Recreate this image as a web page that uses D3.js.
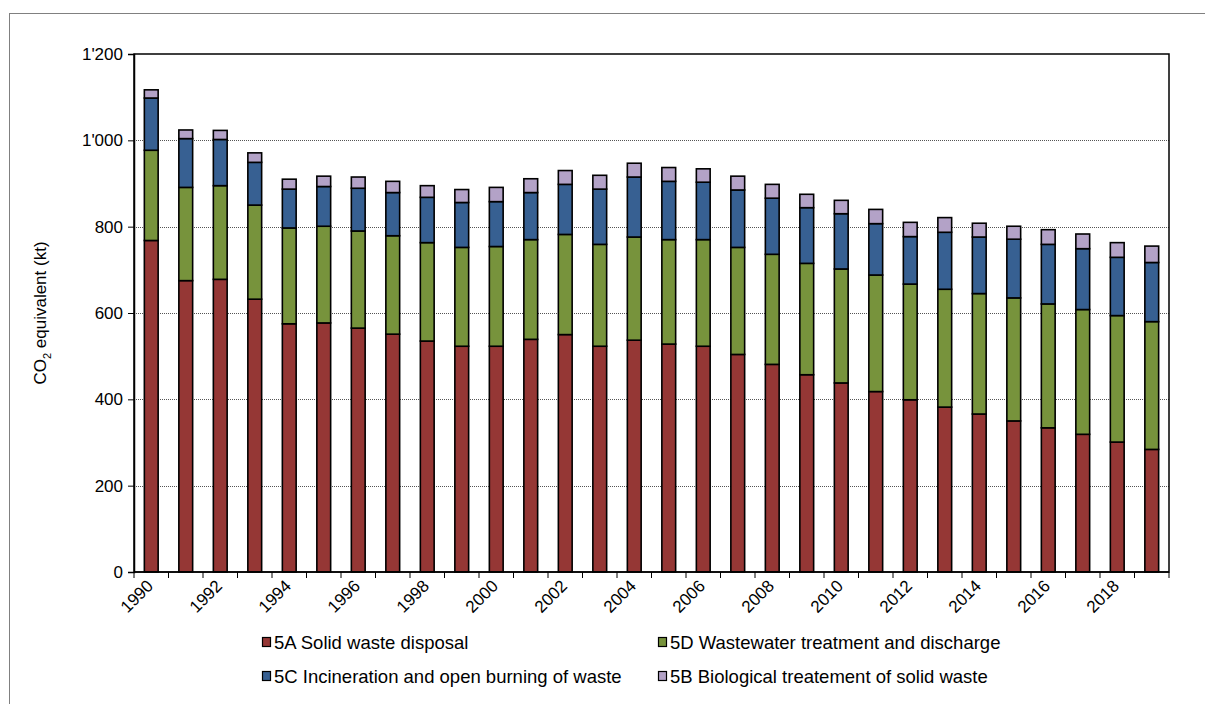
<!DOCTYPE html>
<html><head><meta charset="utf-8">
<script src="https://cdn.jsdelivr.net/npm/d3@7"></script>
<style>
body{margin:0;background:#fff;}
svg{display:block;font-family:"Liberation Sans",Arial,sans-serif;}
</style></head>
<body><svg id="c" width="1205" height="704"></svg>
<script>
const years = d3.range(1990, 2020).map(String);
const tickLabels = ["1990","1992","1994","1996","1998","2000","2002","2004","2006","2008","2010","2012","2014","2016","2018"];
const yTicks = [0,200,400,600,800,1000,1200];
const seriesNames = ["5A Solid waste disposal","5D Wastewater treatment and discharge","5C Incineration and open burning of waste","5B Biological treatement of solid waste"];
const seriesColors = ["#953735","#77933C","#376092","#B3A2C7"];
const s5A = [768,675,678,632,575,577,565,551,535,523,523,539,550,523,537,528,523,504,481,457,438,418,399,382,366,350,334,319,301,284];
const s5D = [209,216,217,218,222,224,225,228,228,229,231,231,232,236,239,242,247,248,255,258,264,270,268,273,279,285,287,289,293,296];
const s5C = [121,113,107,99,90,92,99,100,105,104,104,109,116,128,139,135,133,133,130,129,128,119,110,132,131,136,138,141,135,137];
const s5B = [19,20,21,22,23,24,26,26,27,30,33,32,32,32,32,32,31,32,32,31,31,33,33,34,32,30,34,34,34,38];

const table = years.map((y,i)=>({year:y, s0:s5A[i], s1:s5D[i], s2:s5C[i], s3:s5B[i]}));
const keys = ["s0","s1","s2","s3"];
const stacked = d3.stack().keys(keys)(table);

const svg = d3.select("#c");
const m = {l:134, t:54, r:1169, b:572};

// outer frame
svg.append("rect").attr("x",9.5).attr("y",13.5).attr("width",1300).attr("height",800)
  .attr("fill","none").attr("stroke","#808080").attr("stroke-width",1);

const x = d3.scaleBand().domain(years).range([m.l,m.r]).paddingInner(0.6).paddingOuter(0.3);
const y = d3.scaleLinear().domain([0,1200]).range([m.b,m.t]);
const fmt = v => v>=1000 ? Math.floor(v/1000)+"'"+String(v%1000).padStart(3,"0") : String(v);

// gridlines
svg.append("g").selectAll("line").data(yTicks.filter(v=>v>0 && v<1200)).join("line")
  .attr("x1",m.l).attr("x2",m.r).attr("y1",d=>Math.round(y(d))+0.5).attr("y2",d=>Math.round(y(d))+0.5)
  .attr("stroke","#555").attr("stroke-width",1).attr("stroke-dasharray","1,1");

// bars
const g = svg.append("g");
stacked.forEach((layer,li)=>{
  g.append("g").selectAll("rect").data(layer).join("rect")
    .attr("x",d=>x(d.data.year)).attr("width",x.bandwidth())
    .attr("y",d=>y(d[1])).attr("height",d=>y(d[0])-y(d[1]))
    .attr("fill",seriesColors[li]).attr("stroke","#000").attr("stroke-width",1.6);
});

// plot frame
svg.append("rect").attr("x",m.l).attr("y",m.t).attr("width",m.r-m.l).attr("height",m.b-m.t)
  .attr("fill","none").attr("stroke","#000").attr("stroke-width",1.5);

// y axis
const ya = svg.append("g").attr("transform",`translate(${m.l},0)`)
  .call(d3.axisLeft(y).tickValues(yTicks).tickFormat(fmt).tickSize(6).tickPadding(5));
ya.select(".domain").attr("stroke","#000").attr("stroke-width",1.5);
ya.selectAll(".tick line").attr("stroke","#000");
ya.selectAll("text").attr("font-size",17).attr("font-family","Liberation Sans, Arial, sans-serif").attr("fill","#000");

// x axis: ticks at category boundaries
const boundaries = years.map(yy=>x(yy)-x.step()*x.paddingInner()/2).concat([m.r]);
svg.append("g").selectAll("line").data(boundaries).join("line")
  .attr("x1",d=>d).attr("x2",d=>d).attr("y1",m.b).attr("y2",m.b+6).attr("stroke","#000");
svg.append("line").attr("x1",m.l).attr("x2",m.r).attr("y1",m.b).attr("y2",m.b).attr("stroke","#000").attr("stroke-width",1.5);
svg.append("g").selectAll("text").data(tickLabels).join("text")
  .attr("transform",d=>`translate(${x(d)+x.bandwidth()/2+3},${m.b+15}) rotate(-45)`)
  .attr("text-anchor","end").attr("font-size",17).attr("fill","#000").text(d=>d);

// y title
const yt = svg.append("text").attr("transform","translate(46,313) rotate(-90)")
  .attr("text-anchor","middle").attr("font-size",17).attr("fill","#000");
yt.append("tspan").text("CO");
yt.append("tspan").attr("font-size",11).attr("dy",5).text("2");
yt.append("tspan").attr("dy",-5).text(" equivalent (kt)");

// legend
const legPos = [[262,649],[658,649],[262,683],[658,683]];
const order = [0,1,2,3];
const lg = svg.append("g").selectAll("g").data(order).join("g")
  .attr("transform",(d,i)=>`translate(${legPos[i][0]},${legPos[i][1]})`);
lg.append("rect").attr("x",0.5).attr("y",-11.5).attr("width",8).attr("height",9)
  .attr("fill",d=>seriesColors[d]).attr("stroke","#000").attr("stroke-width",1.2);
lg.append("text").attr("x",12).attr("y",0).attr("font-size",18.5).attr("fill","#000").text(d=>seriesNames[d]);
</script></body></html>
